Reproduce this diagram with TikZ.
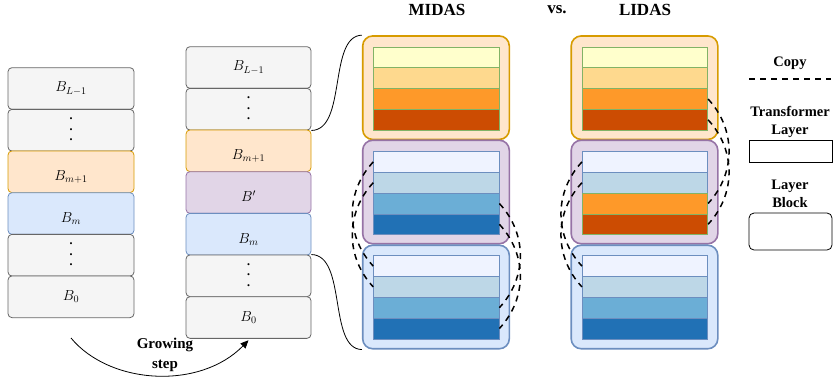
\RequirePackage{fix-cm}
\documentclass[tikz,border=0pt]{standalone}
\usepackage{fontspec}
\setmainfont{Liberation Serif}
\usetikzlibrary{arrows.meta,calc}
\definecolor{gF}{HTML}{F5F5F5}\definecolor{gS}{HTML}{666666}
\definecolor{oF}{HTML}{FFE6CC}\definecolor{oS}{HTML}{D79B00}
\definecolor{pF}{HTML}{E1D5E7}\definecolor{pS}{HTML}{9673A6}
\definecolor{bF}{HTML}{DAE8FC}\definecolor{bS}{HTML}{6C8EBF}
\definecolor{grS}{HTML}{82B366}
\definecolor{or1}{HTML}{FFFFCC}\definecolor{or2}{HTML}{FED98E}
\definecolor{or3}{HTML}{FE9929}\definecolor{or4}{HTML}{CC4C02}
\definecolor{bl1}{HTML}{EFF3FF}\definecolor{bl2}{HTML}{BDD7E7}
\definecolor{bl3}{HTML}{6BAED6}\definecolor{bl4}{HTML}{2171B5}
\newcommand{\vdts}{\char"2022\\\char"2022\\\char"2022}
\begin{document}
\begin{tikzpicture}[x=1pt,y=-1pt,
  sbox/.style 2 args={rectangle, rounded corners=4pt, draw=#1, fill=#2, line width=0.8pt,
     minimum width=126pt, minimum height=41.7pt, inner sep=0pt, font=\fontsize{14.5}{17}\selectfont},
  dbox/.style={sbox={gS}{gF}, font=\fontsize{8.5}{10.3}\selectfont, align=center},
  lab/.style={inner sep=0pt, font=\fontsize{14.5}{17}\selectfont},
  grp/.style 2 args={rectangle, rounded corners=10pt, draw=#1, fill=#2, line width=1.6pt,
     minimum width=146.6pt, minimum height=103.5pt, inner sep=0pt},
  lay/.style 2 args={rectangle, draw=#1, fill=#2, line width=0.8pt,
     minimum width=125.3pt, minimum height=20.8pt, inner sep=0pt},
  ttl/.style={font=\bfseries\fontsize{17}{20}\selectfont, inner sep=0pt},
  leg/.style={font=\bfseries\fontsize{14.5}{18}\selectfont, align=center, inner sep=0pt},
  copy/.style={draw=black, line width=1.5pt, dash pattern=on 6pt off 5pt},
  bline/.style={draw=black, line width=0.8pt}]
\useasboundingbox (0,0) rectangle (834,381);

% ---------- left stack ----------
\node[sbox={gS}{gF}] (a5) at (71,88.5) {$B_{L-1}$};
\node[dbox] (a4) at (71,130.2) {\vdts};
\node[sbox={oS}{oF}] (a3) at (71,171.8) {};
\node[lab] (a3t) at ([yshift=-5pt]a3.center) {$B_{m+1}$};
\node[sbox={bS}{bF}] (a2) at (71,213.5) {};
\node[lab] (a2t) at ([yshift=-5pt]a2.center) {$B_{m}$};
\node[dbox] (a1) at (71,255.2) {\vdts};
\node[sbox={gS}{gF}] (a0) at (71,296.8) {$B_{0}$};

% ---------- middle stack ----------
\node[sbox={gS}{gF}, minimum width=125pt] (c6) at (248.5,67.5) {$B_{L-1}$};
\node[dbox, minimum width=125pt] (c5) at (248.5,109.2) {\vdts};
\node[sbox={oS}{oF}, minimum width=125pt] (c4) at (248.5,150.8) {};
\node[lab] (c4t) at ([yshift=-5pt]c4.center) {$B_{m+1}$};
\node[sbox={pS}{pF}, minimum width=125pt] (c3) at (248.5,192.5) {};
\node[lab] (c3t) at ([yshift=-4pt]c3.center) {$B'$};
\node[sbox={bS}{bF}, minimum width=125pt] (c2) at (248.5,234.2) {};
\node[lab] (c2t) at ([yshift=-5pt]c2.center) {$B_{m}$};
\node[dbox, minimum width=125pt] (c1) at (248.5,275.8) {\vdts};
\node[sbox={gS}{gF}, minimum width=125pt] (c0) at (248.5,317.5) {$B_{0}$};

% ---------- growing step ----------
\coordinate (gs) at (71,338);
\draw[bline, -{Triangle[length=8pt,width=7pt]}] (gs) .. controls (110,385) and (200,390) .. ([yshift=-1.5pt]c0.south);
\node[leg, font=\bfseries\fontsize{15}{20}\selectfont] (grow) at (165,355) {Growing\\step};

% ---------- titles ----------
\node[ttl] (tm) at (437,10) {MIDAS};
\node[ttl] (tv) at (557,10) {vs.};
\node[ttl] (tl) at (645,10) {LIDAS};

% ---------- MIDAS ----------
\node[grp={oS}{oF}] (mo) at (436,87.7) {};
\node[grp={pS}{pF}] (mp) at (436,192) {};
\node[grp={bS}{bF}] (mb) at (436,297) {};
\foreach \i/\c in {1/or1,2/or2,3/or3,4/or4}
  \node[lay={grS}{\c}] (mo\i) at (436.3,{47+20.8*\i-10.4}) {};
\foreach \i/\c in {1/bl1,2/bl2,3/bl3,4/bl4}
  \node[lay={bS}{\c}] (mp\i) at (436.3,{151.5+20.8*\i-10.4}) {};
\foreach \i/\c in {1/bl1,2/bl2,3/bl3,4/bl4}
  \node[lay={bS}{\c}] (mb\i) at (436.3,{255.7+20.8*\i-10.4}) {};

% ---------- LIDAS ----------
\node[grp={oS}{oF}] (lo) at (644.5,87.7) {};
\node[grp={pS}{pF}] (lp) at (644.5,192) {};
\node[grp={bS}{bF}] (lb) at (644.5,297) {};
\foreach \i/\c in {1/or1,2/or2,3/or3,4/or4}
  \node[lay={grS}{\c}] (lo\i) at (645,{47+20.8*\i-10.4}) {};
\node[lay={bS}{bl1}] (lp1) at (645,{151.5+10.4}) {};
\node[lay={bS}{bl2}] (lp2) at (645,{151.5+31.2}) {};
\node[lay={grS}{or3}] (lp3) at (645,{151.5+52}) {};
\node[lay={grS}{or4}] (lp4) at (645,{151.5+72.8}) {};
\foreach \i/\c in {1/bl1,2/bl2,3/bl3,4/bl4}
  \node[lay={bS}{\c}] (lb\i) at (645,{255.7+20.8*\i-10.4}) {};

% ---------- sigmoid connectors ----------
\draw[bline] (c5.south east) .. controls (347,130) and (328,36) .. (mo.north west);
\draw[bline] (c1.north east) .. controls (347,255) and (328,349) .. (mb.south west);

% ---------- copy curves ----------
\foreach \a/\b in {mp1/mb1, mp2/mb2, lp1/lb1, lp2/lb2}
  \draw[copy] (\a.west) .. controls ($(\a.west)+(-28,30)$) and ($(\b.west)+(-28,-30)$) .. (\b.west);
\foreach \a/\b in {mp3/mb3, mp4/mb4, lo3/lp3, lo4/lp4}
  \draw[copy] (\a.east) .. controls ($(\a.east)+(28,30)$) and ($(\b.east)+(28,-30)$) .. (\b.east);

% ---------- legend ----------
\node[leg] (lcopy) at (790,63) {Copy};
\coordinate (cpa) at (749,79);
\coordinate (cpb) at (831,79);
\draw[copy] (cpa) -- (cpb);
\node[leg] (ltr) at (790,122) {Transformer\\Layer};
\node[draw=black, line width=0.8pt, minimum width=83pt, minimum height=21.5pt, inner sep=0pt] (lrect) at (790.5,151.5) {};
\node[leg] (lblk) at (790,194) {Layer\\Block};
\node[draw=black, line width=0.8pt, rounded corners=5pt, minimum width=83pt, minimum height=37pt, inner sep=0pt] (lrr) at (790.5,231.5) {};
\end{tikzpicture}
\end{document}
